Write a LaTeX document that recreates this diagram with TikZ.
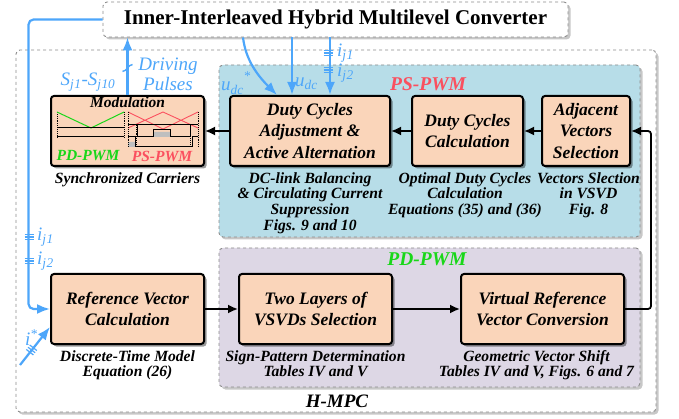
\documentclass[tikz,border=0pt]{standalone}
\usepackage{fontspec}
\setmainfont{Liberation Serif}
\usetikzlibrary{arrows.meta,positioning,shadows}

\definecolor{stagefill}{RGB}{250,213,186}
\definecolor{psblue}{RGB}{183,221,232}
\definecolor{pdlilac}{RGB}{221,215,229}
\definecolor{wireblue}{RGB}{77,166,250}
\definecolor{pdgreen}{RGB}{25,215,25}
\definecolor{psred}{RGB}{250,80,95}

\newcommand\stagefont{\fontsize{17.5}{21.5}\selectfont\bfseries\itshape}
\newcommand\captfont{\fontsize{15.6}{15.8}\selectfont\bfseries\itshape}
\newcommand\wirefont{\fontsize{19}{20}\selectfont\itshape}
\newcommand\sig[2]{\textit{#1}\textsubscript{\textit{#2}}}

\tikzset{
  busmark/.pic={\draw[wireblue, line width=1.2pt] (-4.5,-2.8) -- (4.5,-2.8) (-4.5,0) -- (4.5,0) (-4.5,2.8) -- (4.5,2.8);},
  slashmark/.pic={\draw[wireblue, line width=1.4pt] (-5,3.5) .. controls (-1,3.5) and (1,-3.5) .. (5,-3.5);}
}

\begin{document}
\begin{tikzpicture}[
    x=1pt, y=-1pt,
    stage/.style={rectangle, rounded corners=3pt, draw=black, line width=2pt, fill=stagefill,
        align=center, font=\stagefont, inner sep=1pt,
        drop shadow={shadow xshift=2.5pt, shadow yshift=-2.5pt, opacity=0.4, fill=black}},
    zone/.style={rectangle, rounded corners=4pt, draw=black!45, dashed, line width=0.9pt,
        drop shadow={shadow xshift=2.5pt, shadow yshift=-2.5pt, opacity=0.22, fill=black}},
    caption/.style={align=center, font=\captfont, inner sep=1pt},
    wirelabel/.style={text=wireblue, font=\wirefont, inner sep=1pt},
    arrow/.style={-{Latex[length=10pt,width=9pt]}, line width=1.8pt},
    wire/.style={wireblue, line width=2.2pt},
    wirearrow/.style={wire, -{Latex[length=13pt,width=10pt]}}
]
\useasboundingbox (0,0) rectangle (679,419);

% frames
\node[zone, fill=white, minimum width=640pt, minimum height=362pt] (hmpc) at (336,231) {};
\node[zone, fill=white, minimum width=465pt, minimum height=35pt,
    font=\fontsize{21}{23}\selectfont\bfseries] (conv) at (335.5,19.5) {Inner-Interleaved Hybrid Multilevel Converter};
\node[zone, fill=psblue, minimum width=421pt, minimum height=172pt] (pszone) at (429.5,151) {};
\node[zone, fill=pdlilac, minimum width=421pt, minimum height=139pt] (pdzone) at (429.5,317.5) {};
\node[text=psred, font=\fontsize{19.5}{21}\selectfont\bfseries\itshape] (pslabel) at (428,84) {PS-PWM};
\node[text=pdgreen, font=\fontsize{19.5}{21}\selectfont\bfseries\itshape] (pdlabel) at (427,259) {PD-PWM};
\node[font=\fontsize{19}{21}\selectfont\bfseries\itshape] (hmpclabel) at (337,401) {H-MPC};

% upper row
\node[stage, minimum width=153pt, minimum height=70pt] (mod) at (127.5,131) {};
\node[stage, minimum width=160pt, minimum height=70pt, right=24pt of mod] (adjust) {Duty Cycles\\Adjustment \&\\Active Alternation};
\node[stage, minimum width=111pt, minimum height=70pt, right=20pt of adjust] (calc) {Duty Cycles\\Calculation};
\node[stage, minimum width=88pt, minimum height=70pt, right=17pt of calc] (adjacent) {Adjacent\\Vectors\\Selection};

% lower row
\node[stage, minimum width=153pt, minimum height=70pt, below=106pt of mod] (ref) {Reference Vector\\Calculation};
\node[stage, minimum width=153pt, minimum height=70pt, right=33pt of ref] (twolay) {Two Layers of\\VSVDs Selection};
\node[stage, minimum width=163pt, minimum height=70pt, right=67pt of twolay] (virt) {Virtual Reference\\Vector Conversion};

% captions
\node[caption, below=4pt of mod] (modcap) {Synchronized Carriers};
\node[caption, below=4pt of adjust] (adjustcap) {DC-link Balancing\\\& Circulating Current\\Suppression\\Figs. 9 and 10};
\node[caption, below=4pt of calc, xshift=-2.5pt] (calccap) {Optimal Duty Cycles\\Calculation\\Equations (35) and (36)};
\node[caption, below=4pt of adjacent, xshift=2.5pt] (adjacentcap) {Vectors Slection\\in VSVD\\Fig. 8};
\node[caption, below=4pt of ref] (refcap) {Discrete-Time Model\\Equation (26)};
\node[caption, below=4pt of twolay] (twolaycap) {Sign-Pattern Determination\\Tables IV and V};
\node[caption, below=4pt of virt, xshift=-6pt] (virtcap) {Geometric Vector Shift\\Tables IV and V, Figs. 6 and 7};

% modulation sketch
\node[font=\fontsize{15.5}{17}\selectfont\bfseries\itshape, anchor=north, inner sep=1pt] (modtitle) at ([yshift=-1pt]mod.north) {Modulation};
\node[text=pdgreen, font=\fontsize{15.5}{17}\selectfont\bfseries\itshape] (pdtag) at (88,156) {PD-PWM};
\node[text=psred, font=\fontsize{15.5}{17}\selectfont\bfseries\itshape] (pstag) at (162,156) {PS-PWM};
\draw[densely dotted, line width=0.9pt] (57,112) -- (57,137) (124,112) -- (124,137);
\draw[pdgreen, line width=1pt] (57,112) -- (91,128) -- (124,112);
\draw[line width=1pt] (57,128) -- (124,128) (57,137) -- (124,137);
\fill[black!25] (153,132) rectangle (170,137) (128,142) rectangle (135,147);
\draw[psred, line width=0.9pt] (128,112) -- (163,129) -- (198,112) (128,128) -- (163,112) -- (198,128);
\draw[densely dotted, line width=0.9pt] (128,112) -- (128,147) (136,125) -- (136,147)
    (190,125) -- (190,147) (198,112) -- (198,147);
\draw[line width=1pt] (128,125) -- (198,125);
\draw[line width=1pt] (137,125) -- (137,137) -- (153,137) -- (153,130) -- (170,130) -- (170,137) -- (190,137) -- (190,125);
\draw[line width=1pt] (128,137) -- (135,137) -- (135,147) -- (192,147) -- (192,137) -- (198,137);

% black flow
\draw[arrow] (adjacent) -- (calc);
\draw[arrow] (calc) -- (adjust);
\draw[arrow] (adjust) -- (mod);
\draw[arrow] (ref) -- (twolay);
\draw[arrow] (twolay) -- (virt);
\draw[arrow, rounded corners=3pt] (virt.east) -- ++(26,0) |- (adjacent.east);

% blue signals
\draw[wirearrow] (mod.north) -- (mod.north |- conv.south);
\pic at (127.5,68) {slashmark};
\node[wirelabel] (sjlabel) at (88,82) {\sig{S}{j}\textsubscript{1}-\sig{S}{j}\textsubscript{10}};
\node[wirelabel, align=center] (drivelabel) at (168,74) {Driving\\Pulses};

\draw[wirearrow] ([xshift=-92.5pt]conv.south) .. controls (245,54) and (252,70) .. ([xshift=-33pt]adjust.north);
\node[wirelabel] (udcstar) at (236,83) {\sig{u}{dc}\raisebox{4pt}{\textsuperscript{*}}};
\draw[wirearrow] ([xshift=-18pt]adjust.north |- conv.south) -- ([xshift=-18pt]adjust.north);
\node[wirelabel, anchor=west] (udc) at (294,84) {\sig{u}{dc}};
\draw[wirearrow] ([xshift=20pt]adjust.north |- conv.south) -- ([xshift=20pt]adjust.north);
\pic at (328,53) {busmark};
\pic at (328,70) {busmark};
\node[wirelabel, anchor=west] (ijtop) at (336,53) {\sig{i}{j}\textsubscript{1}};
\node[wirelabel, anchor=west] (ijbot) at (336,73) {\sig{i}{j}\textsubscript{2}};

\draw[wirearrow, rounded corners=5pt] (conv.west) -- ++(-74,0) |- (ref.west);
\pic at (29,237) {busmark};
\pic at (29,261) {busmark};
\node[wirelabel, anchor=west] (ijleft) at (36,237) {\sig{i}{j}\textsubscript{1}};
\node[wirelabel, anchor=west] (ijleftb) at (36,261) {\sig{i}{j}\textsubscript{2}};

\coordinate (istar) at (20,365);
\draw[wirearrow] (istar) -- node[wirelabel, pos=0.72, left=2pt] (istarlabel) {\textit{i}\textsuperscript{*}} ([yshift=-18pt]ref.west);
\pic[rotate=-38] at (31.6,350) {busmark};
\end{tikzpicture}
\end{document}
